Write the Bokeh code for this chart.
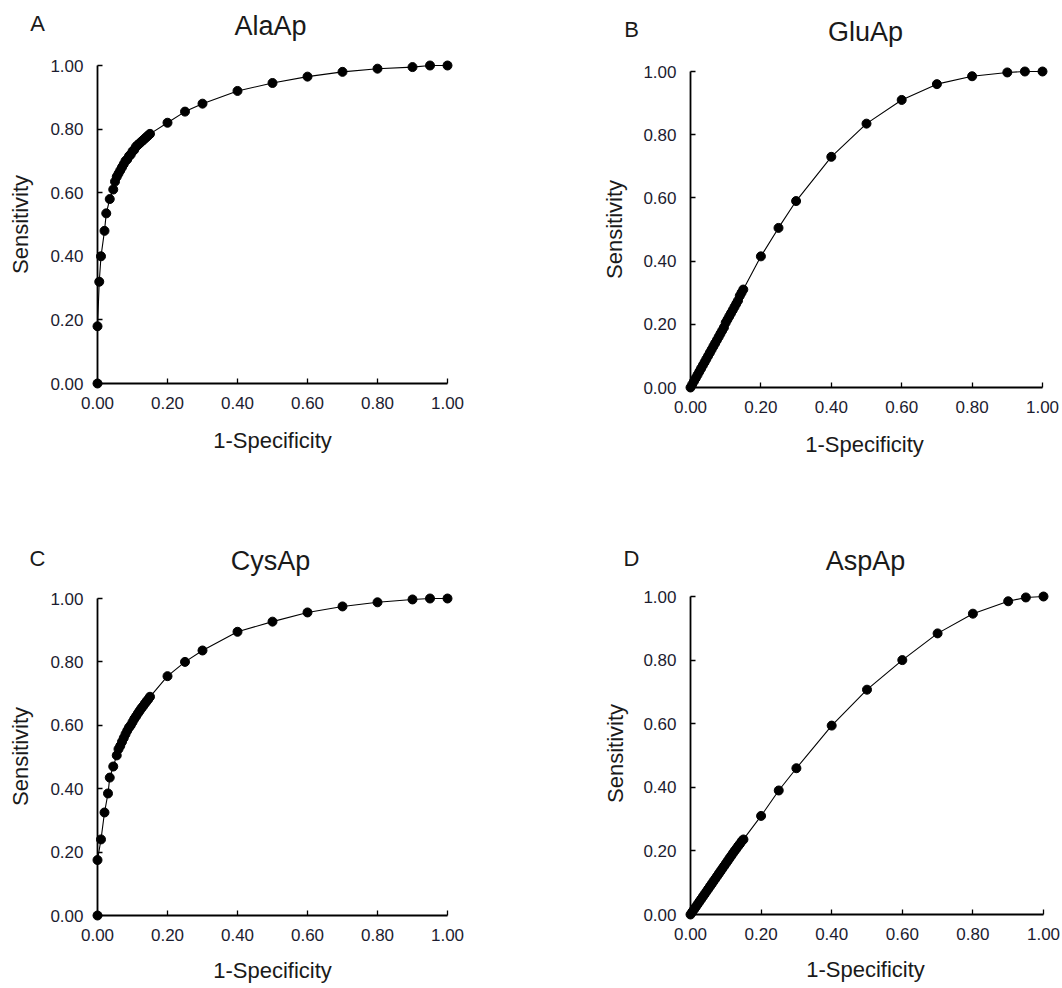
from bokeh.plotting import figure
from bokeh.models import Range1d, FixedTicker
from bokeh.layouts import row, column
from bokeh.core.properties import value
from bokeh.embed import file_html
from bokeh.resources import INLINE
import math

# ---------------- data ----------------
tick_values = [0.0, 0.2, 0.4, 0.6, 0.8, 1.0]
tick_labels = ["0.00", "0.20", "0.40", "0.60", "0.80", "1.00"]

panel_letters = ["A", "B", "C", "D"]
panel_titles = ["AlaAp", "GluAp", "CysAp", "AspAp"]
x_title = "1-Specificity"
y_title = "Sensitivity"

# A: AlaAp
fpr_ala = [0.0, 0.0, 0.005, 0.01, 0.02, 0.025, 0.035, 0.045, 0.05, 0.055, 0.06,
           0.065, 0.07, 0.075, 0.08, 0.085, 0.09, 0.095, 0.10, 0.105, 0.11, 0.115,
           0.12, 0.125, 0.13, 0.135, 0.14, 0.145, 0.15, 0.2, 0.25, 0.3, 0.4, 0.5,
           0.6, 0.7, 0.8, 0.9, 0.95, 1.0]
sens_ala = [0.0, 0.18, 0.32, 0.40, 0.48, 0.535, 0.58, 0.61, 0.635, 0.65, 0.66,
            0.67, 0.68, 0.69, 0.70, 0.705, 0.715, 0.72, 0.73, 0.735, 0.745, 0.75,
            0.755, 0.76, 0.765, 0.77, 0.775, 0.78, 0.785, 0.82, 0.855, 0.88, 0.92, 0.945,
            0.965, 0.98, 0.99, 0.995, 1.0, 1.0]

# B: GluAp
fpr_glu = [0.0, 0.005, 0.01, 0.015, 0.02, 0.025, 0.03, 0.035, 0.04, 0.045, 0.05,
           0.055, 0.06, 0.065, 0.07, 0.075, 0.08, 0.085, 0.09, 0.095, 0.10, 0.105,
           0.11, 0.115, 0.12, 0.125, 0.13, 0.135, 0.14, 0.145, 0.15, 0.2, 0.25, 0.3,
           0.4, 0.5, 0.6, 0.7, 0.8, 0.9, 0.95, 1.0]
sens_glu = [0.0, 0.01, 0.02, 0.03, 0.04, 0.05, 0.06, 0.07, 0.08, 0.09, 0.10,
            0.11, 0.12, 0.13, 0.14, 0.15, 0.16, 0.17, 0.18, 0.19, 0.205, 0.215,
            0.225, 0.235, 0.245, 0.255, 0.265, 0.275, 0.29, 0.30, 0.31, 0.415, 0.505, 0.59,
            0.73, 0.835, 0.91, 0.96, 0.985, 0.997, 1.0, 1.0]

# C: CysAp
fpr_cys = [0.0, 0.0, 0.01, 0.02, 0.03, 0.035, 0.045, 0.055, 0.06, 0.065, 0.07,
           0.075, 0.08, 0.085, 0.09, 0.095, 0.10, 0.105, 0.11, 0.115, 0.12, 0.125,
           0.13, 0.135, 0.14, 0.145, 0.15, 0.2, 0.25, 0.3, 0.4, 0.5, 0.6, 0.7, 0.8,
           0.9, 0.95, 1.0]
sens_cys = [0.0, 0.175, 0.24, 0.325, 0.385, 0.435, 0.47, 0.505, 0.525, 0.535, 0.548,
            0.56, 0.572, 0.583, 0.593, 0.60, 0.61, 0.62, 0.628, 0.637, 0.645, 0.653,
            0.66, 0.668, 0.675, 0.682, 0.69, 0.755, 0.80, 0.836, 0.895, 0.927, 0.956, 0.975, 0.988,
            0.997, 1.0, 1.0]

# D: AspAp
fpr_asp = [0.0, 0.005, 0.01, 0.015, 0.02, 0.025, 0.03, 0.035, 0.04, 0.045, 0.05,
           0.055, 0.06, 0.065, 0.07, 0.075, 0.08, 0.085, 0.09, 0.095, 0.10, 0.105,
           0.11, 0.115, 0.12, 0.125, 0.13, 0.135, 0.14, 0.145, 0.15, 0.2, 0.25, 0.3,
           0.4, 0.5, 0.6, 0.7, 0.8, 0.9, 0.95, 1.0]
sens_asp = [0.0, 0.008, 0.016, 0.024, 0.032, 0.04, 0.048, 0.056, 0.064, 0.072, 0.08,
            0.088, 0.096, 0.104, 0.112, 0.12, 0.128, 0.136, 0.144, 0.152, 0.16, 0.168,
            0.176, 0.184, 0.192, 0.20, 0.207, 0.215, 0.222, 0.23, 0.236, 0.31, 0.39, 0.46,
            0.594, 0.707, 0.80, 0.884, 0.946, 0.985, 0.997, 1.0]

series = [(fpr_ala, sens_ala), (fpr_glu, sens_glu), (fpr_cys, sens_cys), (fpr_asp, sens_asp)]

# ---------------- layout geometry (page pixels) ----------------
# figure rectangles: (left, top, right, bottom)
fig_rect = [(0, 0, 531, 488), (531, 0, 1062, 488), (0, 488, 531, 988), (531, 488, 1062, 988)]
# axis pixel positions: (x of 0, x of 1, y of 0, y of 1)
axis_px = [(97, 447, 383, 65), (690, 1042, 387, 71), (97, 447, 915, 598), (690, 1043, 914, 596)]
# text centres in page pixels: letter, title, x label, y label
text_px = [
    ((37, 23), (270, 25), (272, 440), (20, 224)),
    ((631, 29), (865, 31), (864, 444), (614, 229)),
    ((37, 558), (270, 560), (272, 970), (20, 756)),
    ((631, 558), (865, 560), (865, 969), (615, 753)),
]

FONT = "Liberation Sans"
TEXT_COLOR = "#1a1a1a"

figs = []
for i in range(4):
    L, T, R, B = fig_rect[i]
    x0, x1, y0, y1 = axis_px[i]
    sx = x1 - x0
    sy = y0 - y1

    def dx(px):
        return (px - x0) / sx

    def dy(py):
        return (y0 - py) / sy

    p = figure(width=R - L, height=B - T, output_backend="svg", toolbar_location=None,
               x_range=Range1d(dx(L), dx(R)), y_range=Range1d(dy(B), dy(T)),
               min_border=0, min_border_left=0, min_border_right=0,
               min_border_top=0, min_border_bottom=0)
    p.outline_line_color = None
    p.grid.visible = False
    p.background_fill_color = "white"
    p.border_fill_color = "white"

    for ax in (p.xaxis[0], p.yaxis[0]):
        ax.ticker = FixedTicker(ticks=tick_values)
        ax.major_label_overrides = {v: s for v, s in zip(tick_values, tick_labels)}
        ax.fixed_location = 0
        ax.bounds = (0, 1)
        ax.axis_line_width = 1.8
        ax.axis_line_color = "black"
        ax.major_tick_in = 5
        ax.major_tick_out = 0
        ax.major_tick_line_width = 1.3
        ax.minor_tick_line_color = None
        ax.major_label_text_font = FONT
        ax.major_label_text_font_size = "17px"
        ax.major_label_text_color = "#1c1c30"
    p.xaxis[0].major_label_standoff = 13
    p.yaxis[0].major_label_standoff = 14

    xs, ys = series[i]
    p.line(xs, ys, line_color="black", line_width=1.1)
    p.scatter(xs, ys, marker="circle", size=9, fill_color="black", line_color="black")

    (lpx, lpy), (tpx, tpy), (xlx, xly), (ylx, yly) = text_px[i]
    p.text(x=[dx(lpx)], y=[dy(lpy)], text=[panel_letters[i]], text_font=value(FONT),
           text_font_size=value("22px"), text_color=TEXT_COLOR,
           text_align="center", text_baseline="middle")
    p.text(x=[dx(tpx)], y=[dy(tpy)], text=[panel_titles[i]], text_font=value(FONT),
           text_font_size=value("27px"), text_color=TEXT_COLOR,
           text_align="center", text_baseline="middle")
    p.text(x=[dx(xlx)], y=[dy(xly)], text=[x_title], text_font=value(FONT),
           text_font_size=value("22px"), text_color=TEXT_COLOR,
           text_align="center", text_baseline="middle")
    p.text(x=[dx(ylx)], y=[dy(yly)], text=[y_title], text_font=value(FONT),
           text_font_size=value("22px"), text_color=TEXT_COLOR,
           text_align="center", text_baseline="middle", angle=math.pi / 2)
    figs.append(p)

layout = column(row(figs[0], figs[1], spacing=0), row(figs[2], figs[3], spacing=0), spacing=0)

open("out.html", "w").write(file_html(layout, INLINE))
